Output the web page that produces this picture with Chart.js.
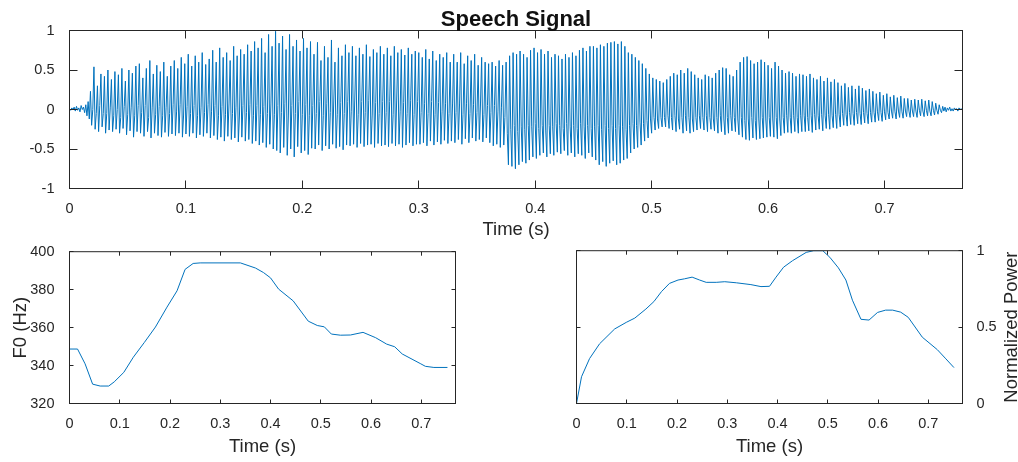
<!DOCTYPE html>
<html>
<head>
<meta charset="utf-8">
<title>Speech Signal</title>
<script src="https://cdn.jsdelivr.net/npm/chart.js@4.4.1/dist/chart.umd.min.js"></script>
<style>
  html, body { margin: 0; padding: 0; background: #fff; }
  #wrap { position: relative; width: 1018px; height: 462px; }
  canvas { position: absolute; }
</style>
</head>
<body>
<div id="wrap">
  <canvas id="speech" width="1018" height="250" style="left:0;top:0"></canvas>
  <canvas id="pitch" width="480" height="226" style="left:0;top:236px"></canvas>
  <canvas id="power" width="498" height="226" style="left:520px;top:236px"></canvas>
</div>
<script>
// speech waveform, one value per millisecond
let speechStep = 0.001;
let speech = [
  0.01,-0.01,0.02, 0,0.03,-0.02, 0.04,-0.01,0.02, -0.03,0.05,0, 0.03,-0.04,0.06, -0.08,0.1,-0.12, 0.23,-0.2,0, 0.54,-0.25,-0.05, 0.3,-0.28,0.05, 0.45,-0.22,-0.05,
  0.42,-0.3,-0.05, 0.5,-0.26,0.02, 0.38,-0.28,-0.08, 0.48,-0.25,0, 0.44,-0.3,-0.1, 0.52,-0.24,0.04, 0.36,-0.32,-0.06, 0.5,-0.27,0.03, 0.46,-0.35,-0.08, 0.55,-0.28,0.05,
  0.58,-0.3,-0.04, 0.4,-0.34,0.05, 0.52,-0.28,-0.1, 0.62,-0.36,0.02, 0.45,-0.3,-0.06, 0.56,-0.33,0.04, 0.48,-0.35,-0.08, 0.6,-0.29,0.03, 0.42,-0.34,-0.05, 0.55,-0.31,0.06,
  0.62,-0.33,-0.02, 0.52,-0.3,0.06, 0.66,-0.35,-0.07, 0.58,-0.31,0.04, 0.7,-0.34,-0.05, 0.55,-0.3,0.05, 0.68,-0.36,-0.08, 0.6,-0.32,0.03, 0.72,-0.34,-0.04, 0.57,-0.3,0.06,
  0.64,-0.36,-0.03, 0.75,-0.33,0.05, 0.6,-0.38,-0.08, 0.78,-0.35,0.04, 0.66,-0.4,-0.06, 0.72,-0.34,0.07, 0.62,-0.38,-0.05, 0.8,-0.36,0.03, 0.68,-0.41,-0.07, 0.76,-0.35,0.05,
  0.7,-0.4,-0.04, 0.82,-0.38,0.06, 0.74,-0.43,-0.08, 0.86,-0.4,0.05, 0.78,-0.45,-0.06, 0.9,-0.42,0.04, 0.72,-0.48,-0.05, 0.95,-0.44,0.07, 0.8,-0.5,-0.06, 0.99,-0.52,0.05,
  0.84,-0.55,-0.04, 0.93,-0.48,0.08, 0.76,-0.58,-0.07, 0.95,-0.5,0.05, 0.8,-0.6,-0.05, 0.88,-0.47,0.1, 0.74,-0.55,-0.06, 0.9,-0.52,0.06, 0.78,-0.57,-0.08, 0.86,-0.49,0.05,
  0.7,-0.5,-0.05, 0.85,-0.45,0.1, 0.62,-0.52,-0.08, 0.8,-0.46,0.08, 0.66,-0.5,-0.04, 0.88,-0.44,0.12, 0.6,-0.49,-0.06, 0.78,-0.47,0.09, 0.68,-0.51,-0.05, 0.82,-0.45,0.1,
  0.72,-0.46,-0.03, 0.8,-0.44,0.12, 0.68,-0.48,-0.06, 0.78,-0.43,0.1, 0.7,-0.47,-0.04, 0.82,-0.45,0.11, 0.67,-0.44,-0.07, 0.76,-0.48,0.09, 0.72,-0.43,-0.05, 0.8,-0.46,0.1,
  0.7,-0.45,-0.04, 0.78,-0.47,0.1, 0.68,-0.43,-0.06, 0.8,-0.46,0.12, 0.72,-0.44,-0.03, 0.76,-0.48,0.09, 0.69,-0.45,-0.05, 0.78,-0.42,0.11, 0.7,-0.46,-0.06, 0.74,-0.44,0.1,
  0.72,-0.44,-0.04, 0.66,-0.42,0.08, 0.76,-0.46,-0.05, 0.64,-0.4,0.1, 0.74,-0.45,-0.06, 0.62,-0.41,0.09, 0.7,-0.44,-0.03, 0.66,-0.39,0.08, 0.72,-0.43,-0.05, 0.6,-0.4,0.07,
  0.7,-0.42,-0.04, 0.6,-0.38,0.07, 0.72,-0.44,-0.06, 0.58,-0.37,0.08, 0.68,-0.42,-0.05, 0.62,-0.36,0.06, 0.7,-0.4,-0.04, 0.56,-0.38,0.07, 0.66,-0.41,-0.06, 0.6,-0.36,0.05,
  0.58,-0.42,-0.04, 0.6,-0.46,0.05, 0.55,-0.44,-0.02, 0.62,-0.48,0.03, 0.56,-0.45,-0.1, 0.6,-0.3,-0.7, 0.68,-0.25,-0.72, 0.72,-0.2,-0.75, 0.7,-0.28,-0.7, 0.74,-0.22,-0.66,
  0.7,-0.25,-0.68, 0.66,-0.2,-0.64, 0.75,-0.22,-0.6, 0.78,-0.18,-0.62, 0.72,-0.24,-0.58, 0.76,-0.2,-0.55, 0.7,-0.26,-0.6, 0.74,-0.2,-0.56, 0.66,-0.22,-0.58, 0.7,-0.18,-0.54,
  0.68,-0.2,-0.56, 0.64,-0.24,-0.52, 0.7,-0.18,-0.58, 0.66,-0.22,-0.55, 0.72,-0.2,-0.6, 0.68,-0.24,-0.56, 0.75,-0.18,-0.58, 0.78,-0.22,-0.62, 0.74,-0.2,-0.55, 0.8,-0.24,-0.6,
  0.8,-0.22,-0.64, 0.78,-0.2,-0.7, 0.82,-0.25,-0.66, 0.8,-0.2,-0.72, 0.84,-0.24,-0.68, 0.85,-0.2,-0.65, 0.86,-0.24,-0.7, 0.83,-0.2,-0.68, 0.86,-0.22,-0.64, 0.8,-0.25,-0.62,
  0.72,-0.2,-0.55, 0.7,-0.18,-0.5, 0.66,-0.2,-0.48, 0.62,-0.16,-0.45, 0.58,-0.18,-0.4, 0.52,-0.14,-0.36, 0.45,-0.12,-0.3, 0.4,-0.1,-0.26, 0.38,-0.12,-0.24, 0.36,-0.1,-0.22,
  0.34,-0.1,-0.22, 0.38,-0.08,-0.24, 0.42,-0.1,-0.26, 0.46,-0.08,-0.28, 0.44,-0.12,-0.25, 0.5,-0.1,-0.3, 0.46,-0.08,-0.27, 0.52,-0.1,-0.3, 0.48,-0.12,-0.28, 0.44,-0.1,-0.26,
  0.4,-0.08,-0.24, 0.38,-0.1,-0.26, 0.44,-0.08,-0.28, 0.42,-0.1,-0.25, 0.4,-0.12,-0.27, 0.46,-0.1,-0.3, 0.5,-0.08,-0.28, 0.53,-0.12,-0.32, 0.52,-0.1,-0.3, 0.44,-0.08,-0.27,
  0.42,-0.1,-0.28, 0.5,-0.12,-0.32, 0.6,-0.1,-0.35, 0.66,-0.14,-0.38, 0.67,-0.12,-0.39, 0.62,-0.1,-0.36, 0.58,-0.14,-0.38, 0.6,-0.12,-0.37, 0.63,-0.1,-0.36, 0.6,-0.12,-0.35,
  0.56,-0.1,-0.34, 0.52,-0.12,-0.35, 0.6,-0.1,-0.37, 0.55,-0.12,-0.33, 0.5,-0.1,-0.3, 0.46,-0.08,-0.29, 0.48,-0.1,-0.3, 0.46,-0.08,-0.28, 0.42,-0.1,-0.3, 0.45,-0.08,-0.28,
  0.44,-0.08,-0.28, 0.42,-0.1,-0.27, 0.45,-0.08,-0.29, 0.4,-0.06,-0.26, 0.38,-0.08,-0.25, 0.42,-0.06,-0.27, 0.36,-0.08,-0.24, 0.4,-0.06,-0.25, 0.35,-0.08,-0.23, 0.38,-0.06,-0.24,
  0.34,-0.06,-0.22, 0.3,-0.05,-0.2, 0.33,-0.06,-0.21, 0.28,-0.04,-0.19, 0.3,-0.05,-0.2, 0.26,-0.04,-0.18, 0.3,-0.05,-0.19, 0.27,-0.04,-0.17, 0.24,-0.05,-0.18, 0.26,-0.04,-0.16,
  0.23,-0.04,-0.16, 0.2,-0.03,-0.14, 0.22,-0.04,-0.15, 0.18,-0.03,-0.13, 0.2,-0.04,-0.12, 0.16,-0.02,-0.11, 0.18,-0.03,-0.12, 0.15,-0.02,-0.1, 0.17,-0.03,-0.11, 0.14,-0.02,-0.09,
  0.14,-0.02,-0.1, 0.12,-0.02,-0.09, 0.13,-0.02,-0.1, 0.12,-0.01,-0.08, 0.13,-0.02,-0.09, 0.11,-0.01,-0.08, 0.12,-0.02,-0.08, 0.1,-0.01,-0.07, 0.08,-0.01,-0.06, 0.06,-0.01,-0.04,
  0.04,-0.02,0.03, -0.03,0.02,-0.01, 0.03,-0.02,0.01, -0.02,0.02,0, 0.01,-0.02,0.02, 0,0.01,-0.01
];

let f0Time = [0, 0.016, 0.031, 0.046, 0.061, 0.078, 0.089, 0.108, 0.127, 0.149, 0.171, 0.194, 0.214, 0.230, 0.246, 0.260, 0.340, 0.370, 0.386, 0.400, 0.416, 0.445, 0.475, 0.493, 0.507, 0.521, 0.539, 0.559, 0.584, 0.609, 0.631, 0.647, 0.662, 0.699, 0.708, 0.725, 0.752];
let f0Hz = [348.7, 348.7, 340.9, 330.2, 329.2, 329.2, 331.4, 336.4, 344.4, 352.2, 360.3, 370.8, 379.4, 390.7, 393.8, 394.1, 394.1, 391.4, 389.0, 386.2, 380.3, 374.1, 363.4, 361.1, 360.4, 356.6, 356.0, 356.1, 357.5, 354.7, 351.3, 349.9, 346.1, 340.9, 339.6, 339.0, 339.0];

let powTime = [0, 0.010, 0.026, 0.046, 0.076, 0.099, 0.116, 0.138, 0.154, 0.169, 0.185, 0.202, 0.215, 0.230, 0.245, 0.258, 0.278, 0.295, 0.318, 0.347, 0.367, 0.384, 0.397, 0.412, 0.430, 0.457, 0.472, 0.490, 0.504, 0.521, 0.536, 0.549, 0.566, 0.582, 0.599, 0.615, 0.629, 0.645, 0.660, 0.688, 0.718, 0.735, 0.751];
let powVal = [0, 0.175, 0.294, 0.391, 0.488, 0.531, 0.559, 0.618, 0.667, 0.732, 0.786, 0.808, 0.816, 0.827, 0.808, 0.793, 0.793, 0.797, 0.790, 0.778, 0.765, 0.767, 0.827, 0.892, 0.935, 0.989, 1.0, 1.0, 0.957, 0.888, 0.808, 0.676, 0.551, 0.546, 0.596, 0.611, 0.611, 0.598, 0.564, 0.434, 0.352, 0.292, 0.235];

let family = 'Liberation Sans, Arial, Helvetica, sans-serif';
let ink = '#262626';
let blue = '#0072BD';
let tickFont = { family: family, size: 14.5 };
let labelFont = { family: family, size: 18.5 };
let plainNumber = v => String(+v.toFixed(2));

// matlab style box: frame, inward ticks on all sides, titles
let boxPlugin = {
  id: 'box',
  afterDraw(chart, args, opts) {
    let ctx = chart.ctx;
    let a = chart.chartArea;
    ctx.save();
    ctx.strokeStyle = ink;
    ctx.lineWidth = 1;
    ctx.beginPath();
    Object.values(chart.scales).forEach(s => {
      s.ticks.forEach(t => {
        let p = Math.round(s.getPixelForValue(t.value) - 0.5) + 0.5;
        if (s.isHorizontal()) {
          ctx.moveTo(p, a.bottom); ctx.lineTo(p, a.bottom - opts.tick);
          ctx.moveTo(p, a.top); ctx.lineTo(p, a.top + opts.tick);
        } else {
          ctx.moveTo(a.left, p); ctx.lineTo(a.left + opts.tick, p);
          ctx.moveTo(a.right, p); ctx.lineTo(a.right - opts.tick, p);
        }
      });
    });
    ctx.stroke();
    ctx.strokeRect(a.left, a.top, a.right - a.left, a.bottom - a.top);

    if (opts.title) {
      ctx.fillStyle = '#111';
      ctx.font = 'bold 22px ' + family;
      ctx.textAlign = 'center';
      ctx.textBaseline = 'alphabetic';
      ctx.fillText(opts.title, (a.left + a.right) / 2, 25.5);
    }
    if (opts.rightTitle) {
      ctx.fillStyle = ink;
      ctx.font = '18.5px ' + family;
      ctx.textAlign = 'center';
      ctx.textBaseline = 'alphabetic';
      ctx.translate(chart.width - 1, (a.top + a.bottom) / 2);
      ctx.rotate(-Math.PI / 2);
      ctx.fillText(opts.rightTitle, 0, 0);
    }
    ctx.restore();
  }
};

function timeAxis(max, height, titlePad) {
  return {
    type: 'linear', min: 0, max: max,
    afterFit: s => { s.height = height; },
    grid: { display: false }, border: { display: false },
    ticks: { stepSize: 0.1, includeBounds: false, maxRotation: 0, autoSkip: false, color: ink, font: tickFont, padding: 4, callback: plainNumber },
    title: { display: true, text: 'Time (s)', color: ink, font: labelFont, padding: { top: 0, bottom: titlePad } }
  };
}

new Chart(document.getElementById('speech'), {
  type: 'line',
  data: {
    datasets: [{
      data: speech.map((v, i) => ({ x: i * speechStep, y: v })),
      borderColor: blue, borderWidth: 1, pointRadius: 0, tension: 0
    }]
  },
  options: {
    responsive: false, animation: false, events: [],
    layout: { padding: { left: 0, top: 30.5, right: 55.5, bottom: 0 } },
    plugins: { legend: { display: false }, tooltip: { enabled: false }, box: { tick: 8, title: 'Speech Signal' } },
    scales: {
      x: timeAxis(0.767, 61.5, 8.5),
      y: {
        min: -1, max: 1,
        afterFit: s => { s.width = 69.5; },
        grid: { display: false }, border: { display: false },
        ticks: { stepSize: 0.5, color: ink, font: tickFont, padding: 7, callback: plainNumber }
      }
    }
  },
  plugins: [boxPlugin]
});

new Chart(document.getElementById('pitch'), {
  type: 'line',
  data: {
    datasets: [{
      data: f0Time.map((t, i) => ({ x: t, y: f0Hz[i] })),
      borderColor: blue, borderWidth: 1, pointRadius: 0, tension: 0
    }]
  },
  options: {
    responsive: false, animation: false, events: [],
    layout: { padding: { left: 0, top: 13.5, right: 24.5, bottom: 0 } },
    plugins: { legend: { display: false }, tooltip: { enabled: false }, box: { tick: 4 } },
    scales: {
      x: timeAxis(0.768, 58.5, 3.5),
      y: {
        min: 320, max: 400,
        afterFit: s => { s.width = 69.5; },
        grid: { display: false }, border: { display: false },
        ticks: { stepSize: 20, color: ink, font: tickFont, padding: 7, callback: plainNumber },
        title: { display: true, text: 'F0 (Hz)', color: ink, font: labelFont, padding: { top: 10, bottom: 0 } }
      }
    }
  },
  plugins: [boxPlugin]
});

new Chart(document.getElementById('power'), {
  type: 'line',
  data: {
    datasets: [{
      data: powTime.map((t, i) => ({ x: t, y: powVal[i] })),
      borderColor: blue, borderWidth: 1, pointRadius: 0, tension: 0
    }]
  },
  options: {
    responsive: false, animation: false, events: [],
    layout: { padding: { left: 56.5, top: 13.5, right: 0, bottom: 0 } },
    plugins: { legend: { display: false }, tooltip: { enabled: false }, box: { tick: 4, rightTitle: 'Normalized Power' } },
    scales: {
      x: timeAxis(0.768, 58.5, 3.5),
      y: {
        position: 'right',
        min: 0, max: 1,
        afterFit: s => { s.width = 55.5; },
        grid: { display: false }, border: { display: false },
        ticks: { stepSize: 0.5, color: ink, font: tickFont, padding: 6, callback: plainNumber }
      }
    }
  },
  plugins: [boxPlugin]
});
</script>
</body>
</html>
